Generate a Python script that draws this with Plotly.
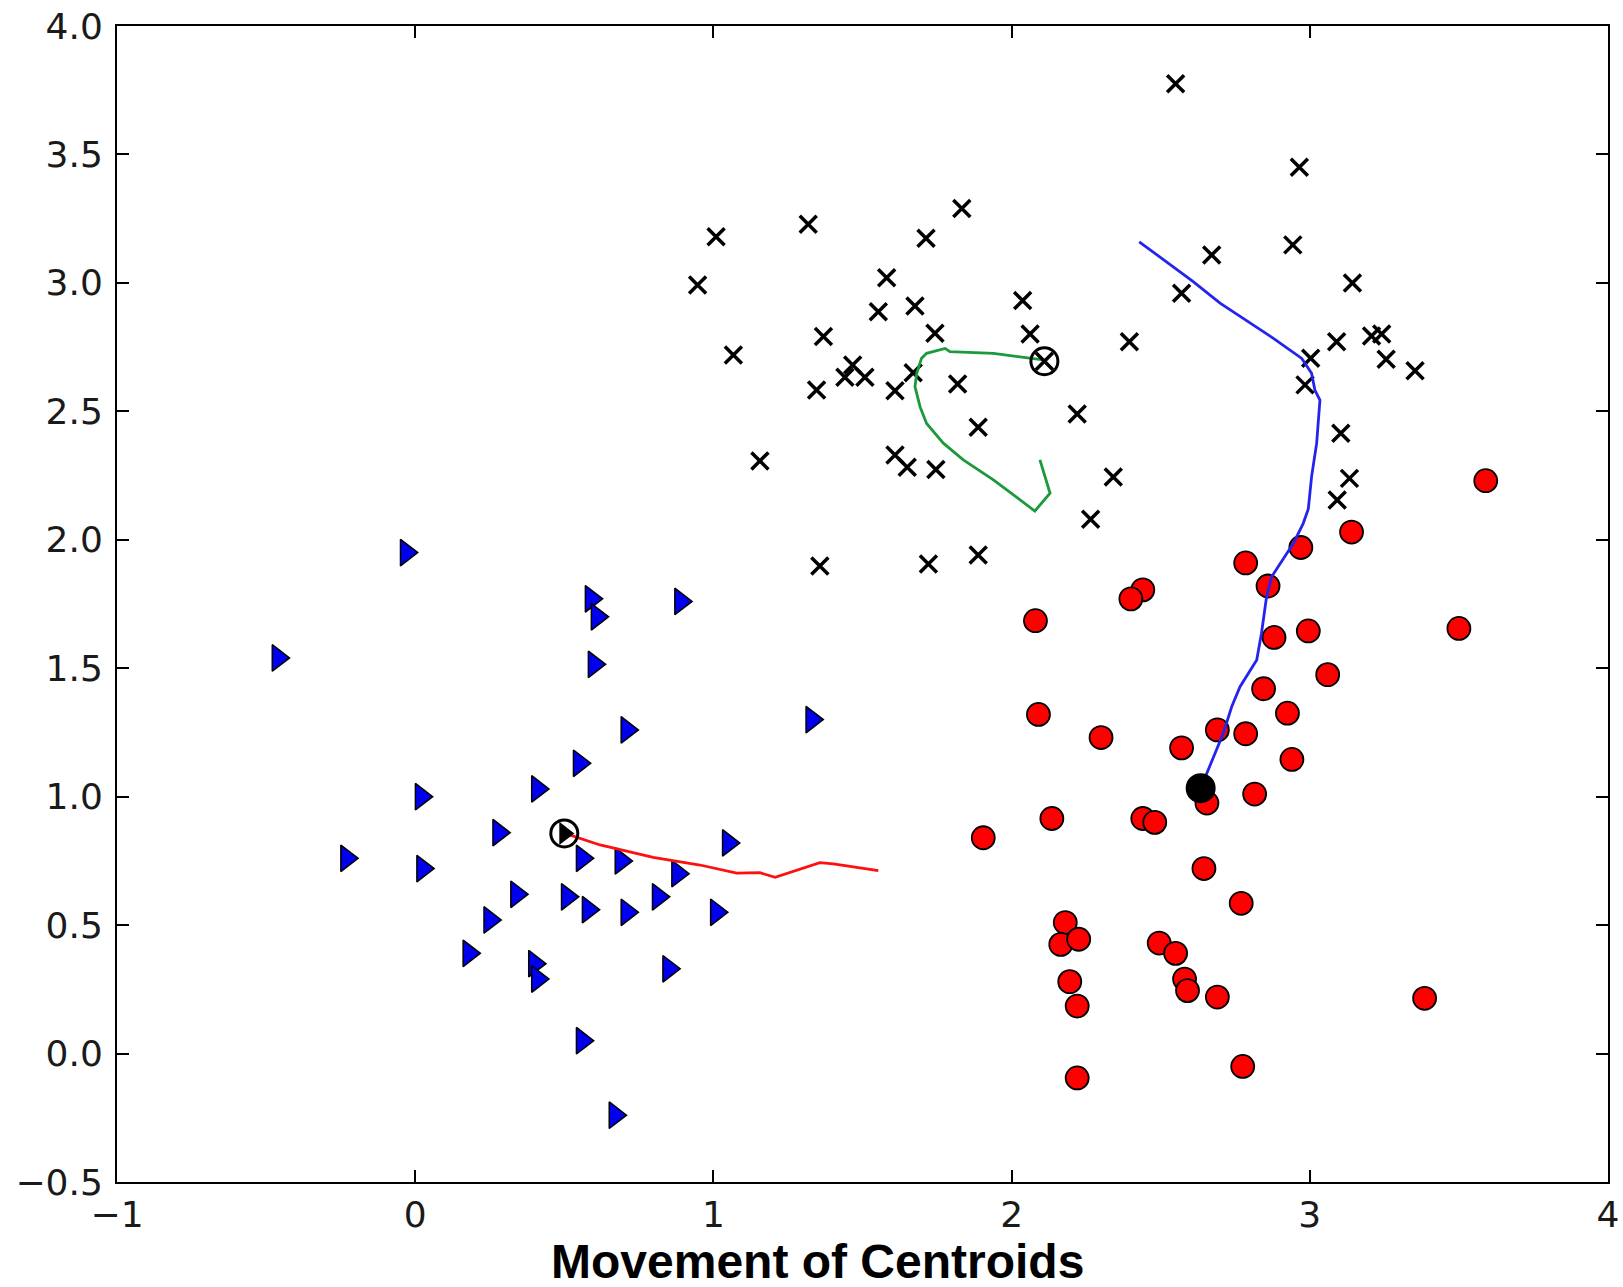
import plotly.graph_objects as go

# ---- data: cluster 1 (blue triangles) ----
tri_x = [-0.03, 0.59, 0.61, 0.89, -0.46, 0.60, 0.71, 1.33, 0.55, 0.41, 0.02, 0.28,
         -0.23, 0.025, 0.56, 0.69, 1.05, 0.88, 0.34, 0.51, 0.58, 0.71, 0.815, 1.01,
         0.25, 0.18, 0.40, 0.41, 0.85, 0.56, 0.67]
tri_y = [1.95, 1.77, 1.70, 1.76, 1.54, 1.515, 1.26, 1.30, 1.13, 1.03, 1.00, 0.86,
         0.76, 0.72, 0.76, 0.75, 0.82, 0.70, 0.62, 0.61, 0.56, 0.55, 0.61, 0.55,
         0.52, 0.39, 0.35, 0.29, 0.33, 0.05, -0.24]

# ---- data: cluster 2 (red circles) ----
circ_x = [3.59, 3.14, 2.97, 2.785, 2.86, 2.44, 2.40, 2.08, 2.88, 2.995, 3.50, 3.06,
          2.845, 2.09, 2.925, 2.69, 2.785, 2.30, 2.57, 2.94, 2.655, 2.815, 2.135,
          2.44, 2.48, 1.905, 2.645, 2.77, 2.18, 2.165, 2.225, 2.495, 2.55, 2.58,
          2.59, 2.69, 2.195, 2.22, 3.385, 2.775, 2.22]
circ_y = [2.23, 2.03, 1.97, 1.91, 1.82, 1.805, 1.77, 1.685, 1.62, 1.645, 1.655, 1.475,
          1.42, 1.32, 1.325, 1.26, 1.245, 1.23, 1.19, 1.145, 0.975, 1.01, 0.915,
          0.915, 0.90, 0.84, 0.72, 0.585, 0.51, 0.425, 0.445, 0.43, 0.39, 0.29,
          0.245, 0.22, 0.28, 0.185, 0.215, -0.05, -0.095]

# ---- data: cluster 3 (black x marks) ----
xm_x = [2.55, 2.965, 1.833, 1.318, 1.009, 1.713, 2.943, 2.671, 0.947, 1.581, 3.143,
        2.57, 2.037, 1.553, 1.676, 1.743, 2.062, 1.369, 2.395, 3.09, 3.207, 3.241,
        1.067, 1.467, 1.441, 1.508, 1.346, 1.609, 1.67, 1.819, 3.003, 3.256, 3.353,
        2.984, 1.888, 2.22, 3.104, 1.156, 1.609, 1.65, 1.746, 2.341, 3.133, 3.092,
        2.265, 1.888, 1.721, 1.357]
xm_y = [3.775, 3.45, 3.29, 3.228, 3.18, 3.174, 3.148, 3.109, 2.992, 3.02, 3.0,
        2.96, 2.931, 2.888, 2.91, 2.804, 2.801, 2.791, 2.771, 2.771, 2.793, 2.801,
        2.719, 2.68, 2.633, 2.633, 2.583, 2.58, 2.65, 2.606, 2.707, 2.703, 2.658,
        2.603, 2.438, 2.49, 2.415, 2.307, 2.33, 2.282, 2.274, 2.244, 2.239, 2.155,
        2.08, 1.941, 1.906, 1.898]

# ---- initial centroids ----
cent_tri = (0.50, 0.857)
cent_x = (2.11, 2.695)
cent_circ = (2.634, 1.033)

# ---- centroid movement paths ----
red_x = [0.502, 0.620, 0.798, 0.955, 1.078, 1.156, 1.207, 1.357, 1.402, 1.553]
red_y = [0.857, 0.812, 0.764, 0.734, 0.702, 0.704, 0.686, 0.743, 0.738, 0.712]
green_x = [2.106, 1.939, 1.793, 1.777, 1.715, 1.698, 1.682, 1.676, 1.693, 1.715,
           1.771, 1.838, 1.939, 2.028, 2.078, 2.129, 2.095]
green_y = [2.700, 2.726, 2.732, 2.745, 2.726, 2.707, 2.648, 2.596, 2.518, 2.453,
           2.376, 2.311, 2.233, 2.155, 2.112, 2.181, 2.311]
blue_x = [2.428, 2.609, 2.699, 2.878, 2.973, 3.006, 3.017, 3.034, 3.023, 3.006,
          2.995, 2.978, 2.945, 2.872, 2.855, 2.838, 2.822, 2.766, 2.738, 2.710, 2.634]
blue_y = [3.160, 3.005, 2.921, 2.784, 2.706, 2.648, 2.583, 2.544, 2.376, 2.246,
          2.12, 2.064, 1.986, 1.856, 1.778, 1.636, 1.532, 1.428, 1.350, 1.247, 1.033]

x_ticks = [-1, 0, 1, 2, 3, 4]
x_tick_text = ["\u22121", "0", "1", "2", "3", "4"]
y_ticks = [-0.5, 0.0, 0.5, 1.0, 1.5, 2.0, 2.5, 3.0, 3.5, 4.0]
y_tick_text = ["\u22120.5", "0.0", "0.5", "1.0", "1.5", "2.0", "2.5", "3.0", "3.5", "4.0"]

title_text = "Movement of Centroids"

fig = go.Figure()

fig.add_trace(go.Scatter(x=tri_x, y=tri_y, mode="markers",
                         marker=dict(symbol="triangle-right", size=23, color="#0000ee",
                                     line=dict(color="black", width=1.5))))
fig.add_trace(go.Scatter(x=circ_x, y=circ_y, mode="markers",
                         marker=dict(symbol="circle", size=23, color="#ff0000",
                                     line=dict(color="black", width=1.8))))
fig.add_trace(go.Scatter(x=xm_x, y=xm_y, mode="markers",
                         marker=dict(symbol="x-thin-open", size=17, color="black",
                                     line=dict(color="black", width=3.5))))

fig.add_trace(go.Scatter(x=red_x, y=red_y, mode="lines",
                         line=dict(color="#ff1010", width=2.8)))
fig.add_trace(go.Scatter(x=green_x, y=green_y, mode="lines",
                         line=dict(color="#1a9a3c", width=2.8)))
fig.add_trace(go.Scatter(x=blue_x, y=blue_y, mode="lines",
                         line=dict(color="#2424ee", width=2.8)))

# initial centroid markers (black, cluster shape) + open rings
fig.add_trace(go.Scatter(x=[cent_tri[0]], y=[cent_tri[1]], mode="markers",
                         marker=dict(symbol="triangle-right", size=20, color="black")))
fig.add_trace(go.Scatter(x=[cent_x[0]], y=[cent_x[1]], mode="markers",
                         marker=dict(symbol="x-thin-open", size=17, color="black",
                                     line=dict(color="black", width=3.5))))
fig.add_trace(go.Scatter(x=[cent_circ[0]], y=[cent_circ[1]], mode="markers",
                         marker=dict(symbol="circle", size=28, color="black")))
fig.add_trace(go.Scatter(x=[cent_tri[0], cent_x[0], cent_circ[0]],
                         y=[cent_tri[1], cent_x[1], cent_circ[1]], mode="markers",
                         marker=dict(symbol="circle-open", size=27, color="black",
                                     line=dict(color="black", width=3))))

axis_common = dict(showgrid=False, zeroline=False, showline=True, linecolor="black",
                   linewidth=2, mirror="allticks", ticks="inside", ticklen=12,
                   tickwidth=1.5, tickcolor="black", automargin=False,
                   tickfont=dict(family="DejaVu Sans", size=36, color="#1a1a1a"))

fig.update_xaxes(range=[-1, 4], tickvals=x_ticks, ticktext=x_tick_text,
                 ticklabelstandoff=0, **axis_common)
fig.update_yaxes(range=[-0.5, 4], tickvals=y_ticks, ticktext=y_tick_text,
                 ticklabelstandoff=5, **axis_common)

fig.add_annotation(text="<b>" + title_text + "</b>", xref="paper", yref="paper",
                   x=0.470, y=0, yshift=-79, xanchor="center", yanchor="middle",
                   showarrow=False,
                   font=dict(family="Liberation Sans", size=48, color="black"))

fig.update_layout(width=1623, height=1287, showlegend=False,
                  paper_bgcolor="white", plot_bgcolor="white",
                  margin=dict(l=117, r=15, t=26, b=105, autoexpand=False))

fig.write_html("out.html")
